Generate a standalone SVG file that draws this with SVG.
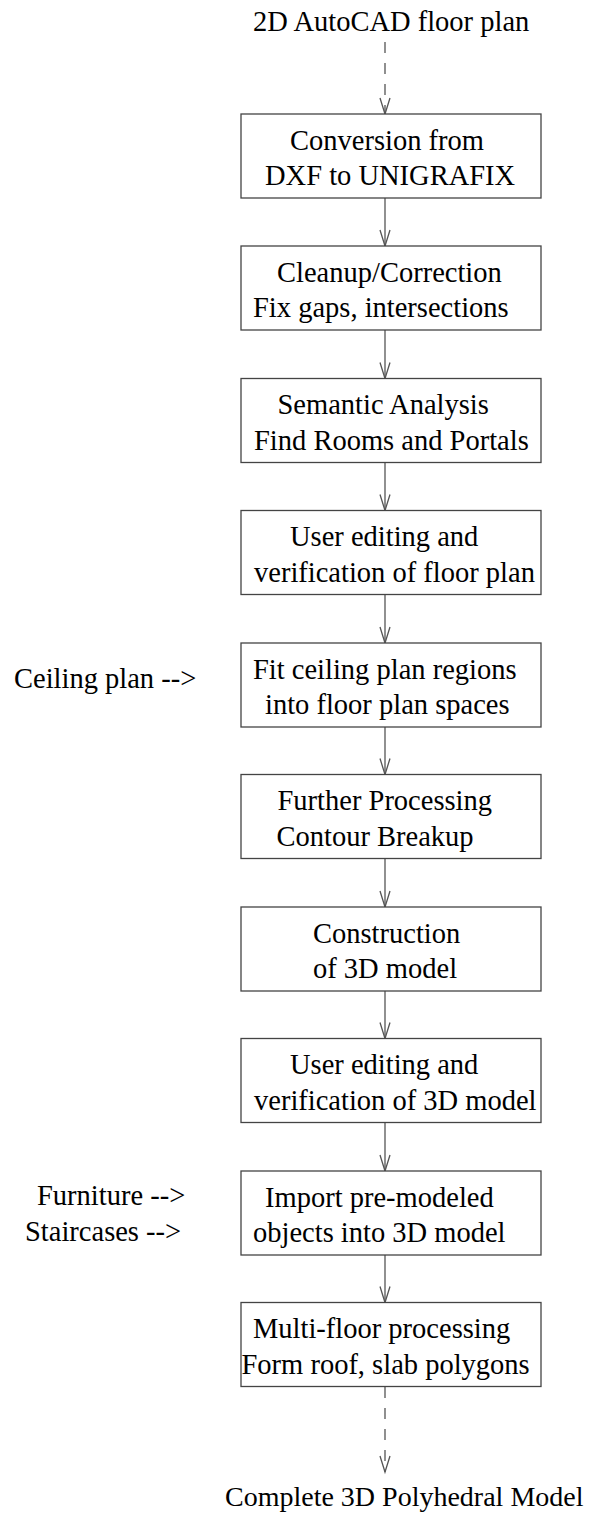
<svg xmlns="http://www.w3.org/2000/svg" width="590" height="1513" viewBox="0 0 590 1513">
  <style>
    text { font-family: "Liberation Serif", "Times New Roman", serif; font-size: 28.5px; fill: #000; }
    .box { fill: #fff; stroke: #444; stroke-width: 1.3; }
    .edge { fill: none; stroke: #555; stroke-width: 1.3; }
    .dash { stroke-dasharray: 11 10; }
  </style>
  <defs>
    <marker id="vee" markerUnits="userSpaceOnUse" orient="auto" refX="0" refY="0"
            markerWidth="20" markerHeight="14" viewBox="-18 -7 20 14" overflow="visible">
      <path d="M-16,-5 L0,0 L-16,5" fill="none" stroke="#555" stroke-width="1.3" stroke-dasharray="none"/>
    </marker>
  </defs>

  <rect width="590" height="1513" fill="#fff"/>

  <!-- connectors -->
  <g id="connectors">
    <path class="edge dash" d="M385,42 V114" marker-end="url(#vee)"/>
    <path class="edge" d="M385,198 V246" marker-end="url(#vee)"/>
    <path class="edge" d="M385,330 V378.5" marker-end="url(#vee)"/>
    <path class="edge" d="M385,462.5 V510.5" marker-end="url(#vee)"/>
    <path class="edge" d="M385,594.5 V643" marker-end="url(#vee)"/>
    <path class="edge" d="M385,727 V774.5" marker-end="url(#vee)"/>
    <path class="edge" d="M385,858.5 V907" marker-end="url(#vee)"/>
    <path class="edge" d="M385,991 V1038.5" marker-end="url(#vee)"/>
    <path class="edge" d="M385,1122.5 V1171" marker-end="url(#vee)"/>
    <path class="edge" d="M385,1255 V1302.5" marker-end="url(#vee)"/>
    <path class="edge dash" d="M385,1387 V1472" marker-end="url(#vee)"/>
  </g>

  <!-- input and output -->
  <g id="source">
    <text x="253" y="31">2D AutoCAD floor plan</text>
  </g>
  <g id="result">
    <text x="225" y="1506" style="font-size:28px">Complete 3D Polyhedral Model</text>
  </g>

  <!-- side inputs -->
  <g id="ceiling-input">
    <text x="14" y="688">Ceiling plan --&gt;</text>
  </g>
  <g id="furniture-input">
    <text x="37" y="1205">Furniture --&gt;</text>
  </g>
  <g id="staircase-input">
    <text x="25" y="1241">Staircases --&gt;</text>
  </g>

  <!-- processing steps -->
  <g id="step-convert">
    <rect class="box" x="241" y="114" width="300" height="84"/>
    <text x="290" y="149.5">Conversion from</text>
    <text x="265" y="185">DXF to UNIGRAFIX</text>
  </g>
  <g id="step-cleanup">
    <rect class="box" x="241" y="246" width="300" height="84"/>
    <text x="277" y="281.5">Cleanup/Correction</text>
    <text x="253" y="317">Fix gaps, intersections</text>
  </g>
  <g id="step-semantic">
    <rect class="box" x="241" y="378.5" width="300" height="84"/>
    <text x="277.5" y="414">Semantic Analysis</text>
    <text x="254" y="449.5">Find Rooms and Portals</text>
  </g>
  <g id="step-floor-edit">
    <rect class="box" x="241" y="510.5" width="300" height="84"/>
    <text x="290" y="546">User editing and</text>
    <text x="254" y="581.5">verification of floor plan</text>
  </g>
  <g id="step-ceiling-fit">
    <rect class="box" x="241" y="643" width="300" height="84"/>
    <text x="253" y="678.5">Fit ceiling plan regions</text>
    <text x="265" y="714">into floor plan spaces</text>
  </g>
  <g id="step-further">
    <rect class="box" x="241" y="774.5" width="300" height="84"/>
    <text x="277.5" y="810">Further Processing</text>
    <text x="276.5" y="845.5">Contour Breakup</text>
  </g>
  <g id="step-construct">
    <rect class="box" x="241" y="907" width="300" height="84"/>
    <text x="313" y="942.5">Construction</text>
    <text x="313" y="978">of 3D model</text>
  </g>
  <g id="step-model-edit">
    <rect class="box" x="241" y="1038.5" width="300" height="84"/>
    <text x="290" y="1074">User editing and</text>
    <text x="254" y="1109.5">verification of 3D model</text>
  </g>
  <g id="step-import">
    <rect class="box" x="241" y="1171" width="300" height="84"/>
    <text x="265" y="1206.5">Import pre-modeled</text>
    <text x="253" y="1242">objects into 3D model</text>
  </g>
  <g id="step-multifloor">
    <rect class="box" x="241" y="1302.5" width="300" height="84"/>
    <text x="253" y="1338">Multi-floor processing</text>
    <text x="241.5" y="1373.5">Form roof, slab polygons</text>
  </g>
</svg>
